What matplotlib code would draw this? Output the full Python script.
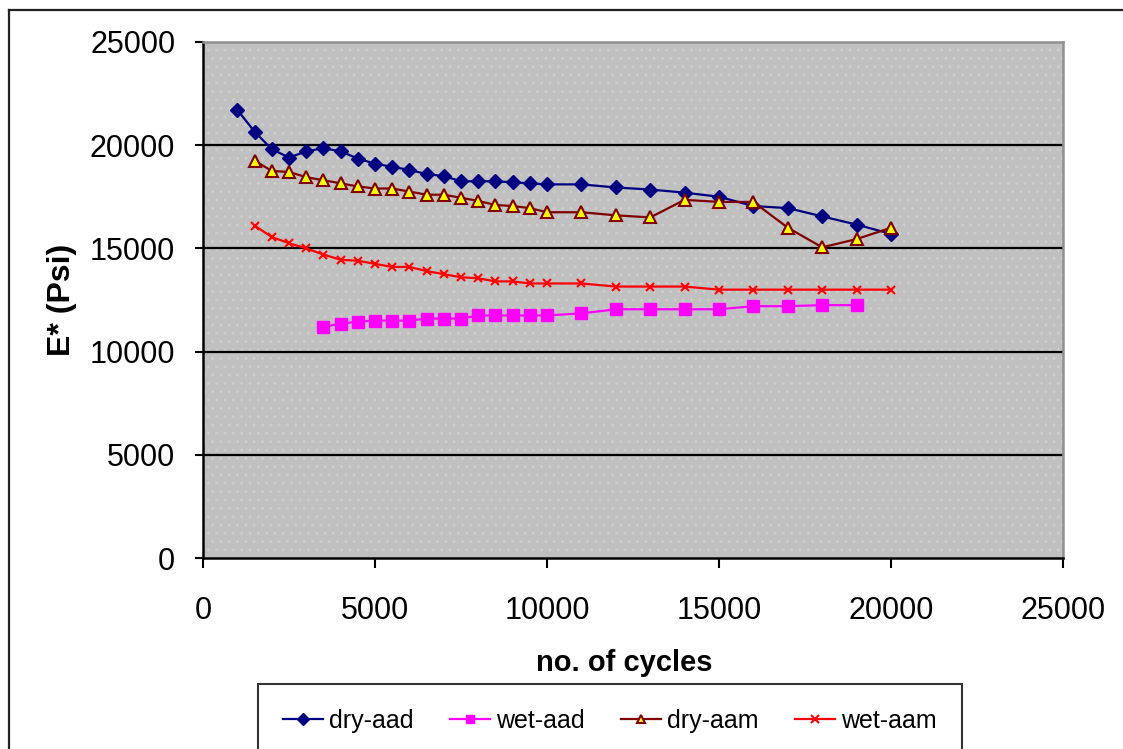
import matplotlib.pyplot as plt
from matplotlib.lines import Line2D
from matplotlib.patches import Rectangle

plt.rcParams['font.family'] = ['Liberation Sans', 'DejaVu Sans']
plt.rcParams['hatch.linewidth'] = 1.0

# E* readings per cycle count
dry_aad_x = [1000, 1500, 2000, 2500, 3000, 3500, 4000, 4500, 5000, 5500, 6000, 6500, 7000, 7500,
             8000, 8500, 9000, 9500, 10000, 11000, 12000, 13000, 14000, 15000, 16000, 17000,
             18000, 19000, 20000]
dry_aad_y = [21700, 20650, 19800, 19400, 19700, 19850, 19700, 19350, 19100, 18950, 18800, 18600,
             18500, 18250, 18250, 18250, 18200, 18150, 18100, 18100, 17950, 17850, 17700, 17500,
             17050, 16950, 16550, 16150, 15700]

wet_aad_x = [3500, 4000, 4500, 5000, 5500, 6000, 6500, 7000, 7500, 8000, 8500, 9000, 9500, 10000,
             11000, 12000, 13000, 14000, 15000, 16000, 17000, 18000, 19000]
wet_aad_y = [11200, 11350, 11450, 11500, 11500, 11500, 11600, 11600, 11600, 11750, 11750, 11750,
             11750, 11750, 11850, 12050, 12050, 12050, 12050, 12200, 12200, 12250, 12250]

dry_aam_x = [1500, 2000, 2500, 3000, 3500, 4000, 4500, 5000, 5500, 6000, 6500, 7000, 7500, 8000,
             8500, 9000, 9500, 10000, 11000, 12000, 13000, 14000, 15000, 16000, 17000, 18000,
             19000, 20000]
dry_aam_y = [19250, 18750, 18700, 18450, 18300, 18150, 18000, 17900, 17900, 17750, 17600, 17600,
             17450, 17300, 17100, 17050, 16950, 16750, 16750, 16600, 16500, 17350, 17250, 17250,
             16000, 15050, 15450, 16000]

wet_aam_x = [1500, 2000, 2500, 3000, 3500, 4000, 4500, 5000, 5500, 6000, 6500, 7000, 7500, 8000,
             8500, 9000, 9500, 10000, 11000, 12000, 13000, 14000, 15000, 16000, 17000, 18000,
             19000, 20000]
wet_aam_y = [16100, 15550, 15250, 15000, 14700, 14450, 14400, 14250, 14100, 14100, 13900, 13750,
             13600, 13550, 13400, 13400, 13300, 13300, 13300, 13150, 13150, 13150, 13000, 13000,
             13000, 13000, 13000, 13000]

ticks = [0, 5000, 10000, 15000, 20000, 25000]

fig = plt.figure(figsize=(11.23, 7.49), dpi=100)
ax = fig.add_axes([0.1808, 0.255, 0.7658, 0.689])

# grey stippled plot area
ax.set_facecolor('#c0c0c0')
ax.add_patch(Rectangle((0, 0), 1, 1, transform=ax.transAxes, facecolor='none',
                       edgecolor='#cdcdcd', hatch='..', linewidth=0, zorder=0))

for y in ticks[1:-1]:
    ax.axhline(y, color='black', lw=1.6, zorder=1)

ax.plot(dry_aad_x, dry_aad_y, color='#000080', lw=1.6, marker='D', ms=7.5,
        label='dry-aad', zorder=3)
ax.plot(wet_aad_x, wet_aad_y, color='#ff00ff', lw=1.6, marker='s', ms=8,
        label='wet-aad', zorder=3)
ax.plot(dry_aam_x, dry_aam_y, color='#800000', lw=1.6, marker='^', ms=9, mfc='#ffff00',
        mec='#800000', mew=1.5, label='dry-aam', zorder=3)
ax.plot(wet_aam_x, wet_aam_y, color='#ff0000', lw=1.6, marker='x', ms=5.5, mew=1.5,
        label='wet-aam', zorder=3)

ax.set_xlim(0, 25000)
ax.set_ylim(0, 25000)
ax.set_xticks(ticks)
ax.set_yticks(ticks)
ax.tick_params(axis='y', direction='out', length=6, width=1.5, pad=14, labelsize=22)
ax.tick_params(axis='x', direction='out', length=7, width=1.5, pad=20, labelsize=22)

for side in ['left', 'bottom']:
    ax.spines[side].set_color('black')
    ax.spines[side].set_linewidth(1.8)
for side in ['top', 'right']:
    ax.spines[side].set_color('#909090')
    ax.spines[side].set_linewidth(1.8)

ax.set_ylabel('E* (Psi)', fontsize=23, fontweight='bold')
ax.yaxis.set_label_coords(-0.147, 0.5)
ax.set_xlabel('no. of cycles', fontsize=21, fontweight='bold')
ax.xaxis.set_label_coords(0.49, -0.176)

# chart area border (runs off the right and bottom edges)
fig.add_artist(Line2D([9 / 1123, 9 / 1123], [0, 1 - 10 / 749], color='#222222', lw=1.6))
fig.add_artist(Line2D([9 / 1123, 1], [1 - 10 / 749, 1 - 10 / 749], color='#222222', lw=1.6))

leg = fig.legend(loc='upper left', bbox_to_anchor=(258 / 1123, 1 - 684 / 749), ncol=4,
                 fontsize=18, frameon=True, fancybox=False, edgecolor='black',
                 handlelength=1.6, columnspacing=1.45, handletextpad=0.25,
                 borderpad=1.0, borderaxespad=0)
leg.get_frame().set_linewidth(1.5)
for h in leg.legend_handles:
    h.set_markersize(6)

fig.savefig('out.png', dpi=100)
